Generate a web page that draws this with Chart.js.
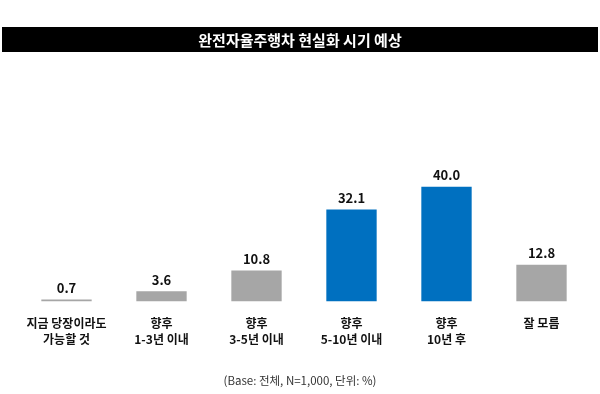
<!DOCTYPE html>
<html><head><meta charset="utf-8">
<script src="https://cdn.jsdelivr.net/npm/chart.js@4/dist/chart.umd.min.js"></script>
<style>html,body{margin:0;padding:0;background:#fff;}canvas{display:block;}</style>
</head><body>
<canvas id="c" width="600" height="394"></canvas>
<script>
const categories = [["지금 당장이라도","가능할 것"],["향후","1-3년 이내"],["향후","3-5년 이내"],["향후","5-10년 이내"],["향후","10년 후"],["잘 모름"]];
const values = [0.7, 3.6, 10.8, 32.1, 40.0, 12.8];
const barColors = ["#A6A6A6","#A6A6A6","#A6A6A6","#0070C0","#0070C0","#A6A6A6"];
const titleText = "완전자율주행차 현실화 시기 예상";
const footnote = "(Base: 전체, N=1,000, 단위: %)";
const FONT = "'Noto Sans CJK KR', 'Noto Sans', sans-serif";

const decor = {
  id: 'decor',
  beforeDraw(chart) {
    const ctx = chart.ctx;
    ctx.save();
    ctx.fillStyle = '#000';
    ctx.fillRect(2, 27, 596, 25);
    ctx.fillStyle = '#fff';
    ctx.font = 'bold 15px ' + FONT;
    ctx.textAlign = 'center';
    ctx.textBaseline = 'middle';
    ctx.fillText(titleText, 300, 40);
    ctx.fillStyle = '#333';
    ctx.font = '11.5px ' + FONT;
    ctx.fillText(footnote, 300, 381);
    ctx.restore();
  },
  afterDatasetsDraw(chart) {
    const ctx = chart.ctx;
    const meta = chart.getDatasetMeta(0);
    ctx.save();
    ctx.fillStyle = '#111';
    ctx.font = 'bold 13px ' + FONT;
    ctx.textAlign = 'center';
    ctx.textBaseline = 'bottom';
    meta.data.forEach((bar, i) => {
      ctx.fillText(values[i].toFixed(1), bar.x, bar.y - 5);
    });
    ctx.restore();
  }
};

new Chart(document.getElementById('c'), {
  type: 'bar',
  data: {
    labels: categories,
    datasets: [{ data: values, backgroundColor: barColors, categoryPercentage: 1, barPercentage: 0.53 }]
  },
  options: {
    responsive: false,
    animation: false,
    layout: { padding: { left: 19, right: 11, top: 158, bottom: 32 } },
    plugins: { legend: { display: false }, tooltip: { enabled: false } },
    scales: {
      x: {
        grid: { display: false, drawTicks: false },
        border: { display: false },
        ticks: { color: '#111', font: { family: FONT, size: 12, weight: '600', lineHeight: 1.35 }, padding: 14, maxRotation: 0, autoSkip: false }
      },
      y: { display: false, min: 0, max: 50 }
    }
  },
  plugins: [decor]
});
</script>
</body></html>
